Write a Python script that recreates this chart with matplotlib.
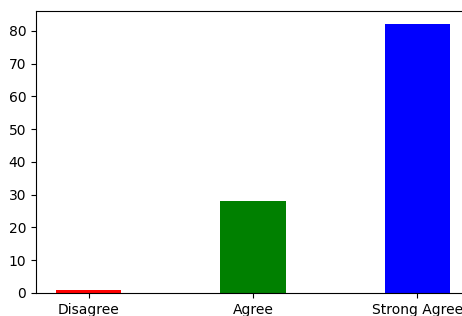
import matplotlib
matplotlib.use('Agg')
import matplotlib.pyplot as plt

# Data
categories = ['Disagree', 'Agree', 'Strong Agree']
counts = [1, 28, 82]
bar_colors = ['red', 'green', 'blue']

fig = plt.figure(figsize=(4.62, 3.16), dpi=100)
# axes runs a little past the right edge, as in the reference
ax = fig.add_axes([36 / 462, 23 / 316, 434 / 462, 282 / 316])

ax.bar(categories, counts, width=0.4, color=bar_colors)
ax.set_yticks(range(0, 81, 10))

fig.savefig('out.png', dpi=100)
